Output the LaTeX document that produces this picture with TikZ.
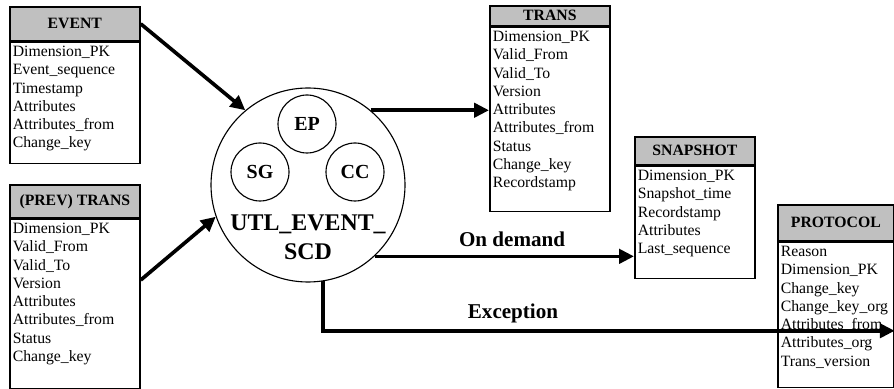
\documentclass[tikz,border=0pt]{standalone}
\usepackage{fontspec}
\setmainfont{Liberation Serif}
\usetikzlibrary{arrows.meta}
\usetikzlibrary{positioning}
\definecolor{headgray}{RGB}{192,192,192}

\begin{document}
\begin{tikzpicture}[
		headnode/.style={
		% The shape:
		rectangle,
		anchor=north west,
		inner sep=1pt,
		% The border:
		draw=black,
		line width=1.2pt,
		% The filling:
		fill=headgray,
		% Font
		font=\fontsize{11.2}{13}\selectfont\bfseries
		},
		bodynode/.style={
		% The shape:
		rectangle,
		% The border:
		draw=black,
		line width=1.2pt,
		% The filling:
		fill=white
		},
		listnode/.style={
		anchor=north west,
		align=left,
		inner xsep=2.5pt,
		inner ysep=3pt,
		% Font
		font=\fontsize{11.2}{13}\selectfont
		},
		bigcircle/.style={
		circle,
		minimum size=4.85cm,
		inner sep=0pt,
		draw=black,
		line width=0.8pt
		},
		smallcircle/.style={
		circle,
		minimum size=1.45cm,
		inner sep=0pt,
		draw=black,
		line width=0.8pt,
		font=\fontsize{14.2}{16}\selectfont\bfseries
		},
		flow/.style={
		-{Triangle[length=10.5pt,width=10pt]},
		line width=2.6pt
		},
		flowlabel/.style={
		font=\fontsize{15}{18}\selectfont\bfseries
		}
	]
	\useasboundingbox (0,0) rectangle (22.35,9.7);

	% input tables
	\node (eventhead)[headnode, minimum width=3.25cm, minimum height=0.85cm] at (0.225,9.55) {EVENT};
	\node (eventbody)[bodynode, minimum width=3.25cm, minimum height=3.025cm, below=0pt of eventhead] {};
	\node (eventlist)[listnode] at (eventbody.north west) {Dimension\_PK\\Event\_sequence\\Timestamp\\Attributes\\Attributes\_from\\Change\_key};

	\node (prevhead)[headnode, minimum width=3.25cm, minimum height=0.825cm] at (0.225,5.1) {(PREV) TRANS};
	\node (prevbody)[bodynode, minimum width=3.25cm, minimum height=4.225cm, below=0pt of prevhead] {};
	\node (prevlist)[listnode] at (prevbody.north west) {Dimension\_PK\\Valid\_From\\Valid\_To\\Version\\Attributes\\Attributes\_from\\Status\\Change\_key};

	% output tables
	\node (transhead)[headnode, minimum width=3cm, minimum height=0.5cm] at (12.225,9.575) {TRANS};
	\node (transbody)[bodynode, minimum width=3cm, minimum height=4.6cm, below=0pt of transhead] {};
	\node (translist)[listnode] at (transbody.north west) {Dimension\_PK\\Valid\_From\\Valid\_To\\Version\\Attributes\\Attributes\_from\\Status\\Change\_key\\Recordstamp};

	\node (snaphead)[headnode, minimum width=3cm, minimum height=0.7cm] at (15.85,6.3) {SNAPSHOT};
	\node (snapbody)[bodynode, minimum width=3cm, minimum height=2.8cm, below=0pt of snaphead] {};
	\node (snaplist)[listnode] at (snapbody.north west) {Dimension\_PK\\Snapshot\_time\\Recordstamp\\Attributes\\Last\_sequence};

	\node (protohead)[headnode, minimum width=2.9cm, minimum height=0.9cm] at (19.425,4.6) {PROTOCOL};
	\node (protobody)[bodynode, minimum width=2.9cm, minimum height=3.625cm, below=0pt of protohead] {};
	\node (protolist)[listnode] at (protobody.north west) {Reason\\Dimension\_PK\\Change\_key\\Change\_key\_org\\Attributes\_from\\Attributes\_org\\Trans\_version};

	% the procedure
	\node (utl)[bigcircle] at (7.7,5.075) {};
	\node (ep)[smallcircle] at (7.675,6.6) {EP};
	\node (sg)[smallcircle] at (6.5,5.4) {SG};
	\node (cc)[smallcircle] at (8.875,5.4) {CC};
	\node (utltxt)[align=center, font=\fontsize{17}{20.6}\selectfont\bfseries] at (7.7,3.76) {UTL\_EVENT\_\\SCD};

	\draw [flow] (eventhead.east) -- (utl.130);
	\draw [flow] (prevbody.20) -- (utl.199);
	\draw [flow] (utl.50) -- (utl.50 -| transbody.west);
	\draw [flow] (utl.-47) -- node[flowlabel, pos=0.53, above=2pt] {On demand} (utl.-47 -| snapbody.west);
	\draw [flow] (utl.-81) |- (protobody.-15);
	\node (exclabel)[flowlabel] at (12.825,1.875) {Exception};
\end{tikzpicture}
\end{document}
